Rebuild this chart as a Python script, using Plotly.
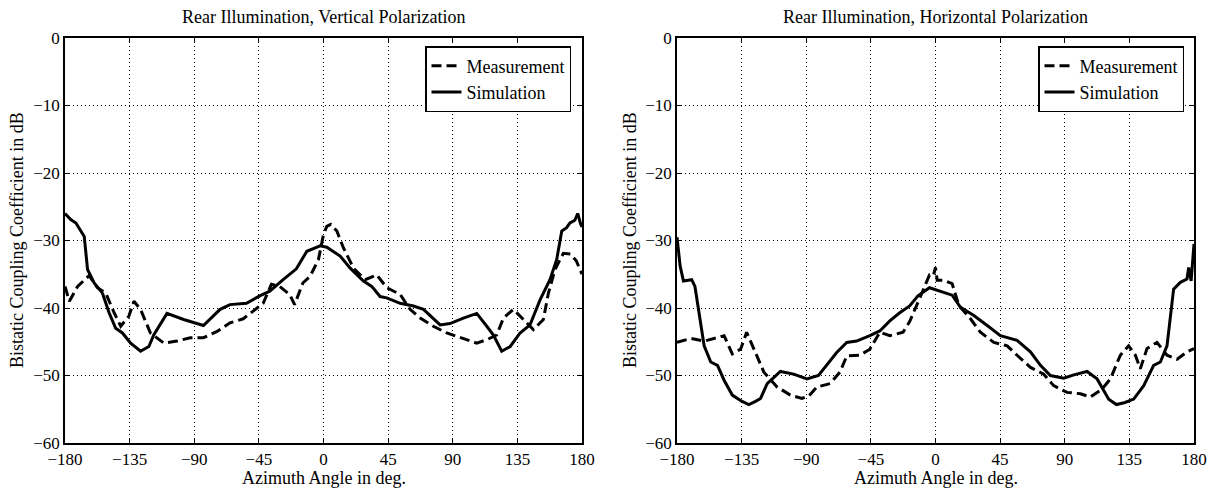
import plotly.graph_objects as go

# ---------------- data ----------------
# Left panel: Rear Illumination, Vertical Polarization
v_sim_deg = [-180, -176, -172.4, -169, -166.6, -164.3, -159.7, -153.9, -149.3, -144.7, -140, -134.3,
             -127.4, -121.6, -118.2, -109, -97.4, -83.6, -72, -65.1, -53.6, -44.4, -37.4, -28.1,
             -18.9, -11.6, -2.3, 2.3, 11.6, 18.6, 27.8, 33.6, 39.4, 44, 53.4, 62.6, 69.6, 81.2,
             88.1, 97.4, 106.7, 113.7, 118.3, 124.1, 130, 136.9, 143.8, 150.8, 157.7, 162.4,
             165.9, 169.3, 171.6, 175, 177, 179, 180]
v_sim_db = [-26, -26.9, -27.4, -28.6, -29.4, -34.3, -36.3, -37.8, -40.7, -43, -43.7, -45.2,
            -46.4, -45.7, -44, -40.8, -41.7, -42.6, -40.2, -39.5, -39.3, -38.2, -37.5, -35.8,
            -34.2, -31.6, -30.8, -31, -32.3, -34.1, -36, -36.8, -38.3, -38.5, -39.3, -39.7, -40.2, -42.5,
            -42.3, -41.5, -40.8, -42.7, -44, -46.4, -45.7, -43.7, -42.5, -38.8, -35.8, -32.8,
            -28.6, -28.1, -27.4, -27, -26, -27.5, -28]

v_meas_deg = [-180, -177, -171.2, -163.2, -157.4, -151.6, -145.8, -141.2, -135.5, -132, -127.4,
              -120.5, -111.2, -102, -92.8, -83.6, -74.4, -65.1, -55.9, -49, -42, -36.3, -30.5,
              -23.6, -20.1, -14.4, -9.3, -3.5, 0, 2.3, 5, 9.3, 13.9, 20.9, 29, 37.1, 44.1, 53.4,
              60.3, 67.3, 76.5, 85.8, 95.1, 106.7, 113.7, 120.6, 125.3, 132.2, 139.2, 146.1,
              153.1, 156.6, 161.2, 167, 172, 176, 180]
v_meas_db = [-36.8, -39, -36.8, -35.2, -37, -37.8, -40.7, -42.7, -41.2, -39, -40.2,
             -43.7, -45.2, -44.9, -44.4, -44.4, -43.5, -42.2, -41.6, -40.5, -39.3, -36.5, -36.8,
             -38, -39.5, -36.3, -35.3, -32.8, -29.1, -27.9, -27.6, -28.6, -31.1, -34.1, -35.8, -35.1, -37, -38,
             -40.2, -41.5, -42.7, -43.7, -44.4, -45.2, -44.7, -44, -41.5, -40.2, -41.7, -43.2,
             -41.7, -37.8, -34.3, -31.9, -32, -33, -35]

# Right panel: Rear Illumination, Horizontal Polarization
h_sim_deg = [-180, -177.8, -175.5, -169.8, -167.5, -164.5, -161.1, -156.5, -151.8, -147.2, -141.5,
             -135, -130, -125, -121.8, -117.2, -108, -98.8, -89.5, -81.5, -75.7, -68.8, -61.8,
             -54.9, -45.7, -38.8, -31.8, -24.9, -18, -12.2, -4.2, 0, 11.6, 17.4, 26.7, 36, 45.2,
             56.8, 66.1, 73.1, 80, 89.3, 96.3, 105.5, 112.5, 120.6, 126, 132, 138, 145, 151.9,
             156.6, 161.2, 165.8, 170.5, 175.1, 176.3, 178, 180]
h_sim_db = [-29.5, -33.8, -36, -35.8, -36.8, -40.7, -45.6, -48, -48.5, -50.7, -52.9,
            -53.8, -54.3, -53.8, -53.4, -51.2, -49.4, -49.8, -50.5, -50, -48.5, -46.6, -45.1,
            -44.9, -44.1, -43.4, -41.9, -40.7, -39.7, -38.2, -37, -37.3, -38.1, -39.9, -41.1, -42.6, -44.1,
            -44.8, -46.5, -48.5, -50, -50.4, -49.9, -49.4, -50.5, -53.5, -54.3, -54, -53.5, -51.5, -48.5,
            -48, -45.6, -37.2, -36.2, -35.7, -34, -36, -30.5]

h_meas_deg = [-180, -170.3, -161, -147.2, -141.5, -135.7, -131.5, -126.5, -119.5, -110.3, -101.1,
              -93, -88, -82.6, -73.4, -66.5, -61.8, -52.6, -45.7, -38.8, -31.8, -22.6, -18, -11.1,
              -4.2, -1.5, 0, 1.2, 5.8, 11.6, 16.2, 24.4, 31.3, 40.6, 49.9, 56.8, 66.1, 75.4, 82.3,
              91.6, 100.9, 107.8, 116, 121.8, 128.7, 134.5, 139.2, 142.6, 147.3, 154.2, 161.2,
              168.2, 175.1, 180]
h_meas_db = [-45.1, -44.5, -44.9, -44.1, -46.8, -46.1, -43.6, -46.1, -49.5, -51.7, -52.9,
             -53.4, -53, -51.7, -51.2, -49.5, -47.1, -47, -46.1, -43.6, -44.1, -43.6, -42, -38.6,
             -35.1, -35.2, -34, -35.9, -35.9, -36.4, -39.6, -41.6, -43.6, -45.1, -45.6, -47, -48.8, -49.8, -51.5,
             -52.5, -52.7, -53.2, -52, -50.5, -47, -45.6, -47, -49, -46, -45.1, -47,
             -47.6, -46.5, -46]

x_ticks = [-180, -135, -90, -45, 0, 45, 90, 135, 180]
y_ticks = [0, -10, -20, -30, -40, -50, -60]
titles = ["Rear Illumination, Vertical Polarization", "Rear Illumination, Horizontal Polarization"]
x_label = "Azimuth Angle in deg."
y_label = "Bistatic Coupling Coefficient in dB"

# ---------------- figure ----------------
W, H = 1214, 491
FONT = "Liberation Serif"
L1, R1 = 65, 582
L2, R2 = 677, 1194
TOP, BOT = 38, 443

fig = go.Figure()
line_dash = "10px,5px"
fig.add_trace(go.Scatter(x=v_meas_deg, y=v_meas_db, mode="lines", name="Measurement",
                         line=dict(color="black", width=3, dash=line_dash),
                         xaxis="x", yaxis="y", legend="legend"))
fig.add_trace(go.Scatter(x=v_sim_deg, y=v_sim_db, mode="lines", name="Simulation",
                         line=dict(color="black", width=3),
                         xaxis="x", yaxis="y", legend="legend"))
fig.add_trace(go.Scatter(x=h_meas_deg, y=h_meas_db, mode="lines", name="Measurement",
                         line=dict(color="black", width=3, dash=line_dash),
                         xaxis="x2", yaxis="y2", legend="legend2"))
fig.add_trace(go.Scatter(x=h_sim_deg, y=h_sim_db, mode="lines", name="Simulation",
                         line=dict(color="black", width=3),
                         xaxis="x2", yaxis="y2", legend="legend2"))

common = dict(showline=True, mirror="ticks", linecolor="black", linewidth=1.5,
              ticks="inside", ticklen=5, tickcolor="black", tickwidth=1,
              showgrid=True, gridcolor="black", griddash="1px,3px", gridwidth=1,
              zeroline=False, automargin=False,
              tickfont=dict(family=FONT, size=17, color="black"))

def xd(a, b):
    return [a / W, b / W]

ydom = [(H - BOT) / H, (H - TOP) / H]

legend_common = dict(bgcolor="white", bordercolor="black", borderwidth=1.5,
                     font=dict(family=FONT, size=18, color="black"),
                     xanchor="right", yanchor="top", itemwidth=30,
                     tracegroupgap=0, traceorder="normal")

fig.update_layout(
    template="none",
    width=W, height=H,
    margin=dict(l=0, r=0, t=0, b=0, autoexpand=False),
    paper_bgcolor="white", plot_bgcolor="white",
    font=dict(family=FONT, size=18, color="black"),
    showlegend=True,
    xaxis=dict(domain=xd(L1, R1), range=[-180, 180], tickvals=x_ticks, anchor="y", **common),
    yaxis=dict(domain=ydom, range=[-60, 0], tickvals=y_ticks, anchor="x", **common),
    xaxis2=dict(domain=xd(L2, R2), range=[-180, 180], tickvals=x_ticks, anchor="y2", **common),
    yaxis2=dict(domain=ydom, range=[-60, 0], tickvals=y_ticks, anchor="x2", **common),
    legend=dict(x=571 / W, y=(H - 46) / H, **legend_common),
    legend2=dict(x=1184 / W, y=(H - 46) / H, **legend_common),
)

annots = []
for (a, b), t, ylx in [((L1, R1), titles[0], 17), ((L2, R2), titles[1], 630)]:
    cx = (a + b) / 2 / W
    annots.append(dict(text=t, x=cx, y=1 - 17 / H, xref="paper", yref="paper",
                       xanchor="center", yanchor="middle", showarrow=False,
                       font=dict(family=FONT, size=18, color="black")))
    annots.append(dict(text=x_label, x=cx, y=1 - 478 / H, xref="paper", yref="paper",
                       xanchor="center", yanchor="middle", showarrow=False,
                       font=dict(family=FONT, size=18, color="black")))
    annots.append(dict(text=y_label, x=ylx / W, y=1 - 240 / H, xref="paper", yref="paper",
                       xanchor="center", yanchor="middle", showarrow=False, textangle=-90,
                       font=dict(family=FONT, size=18, color="black")))
fig.update_layout(annotations=annots)

fig.write_html("out.html")
